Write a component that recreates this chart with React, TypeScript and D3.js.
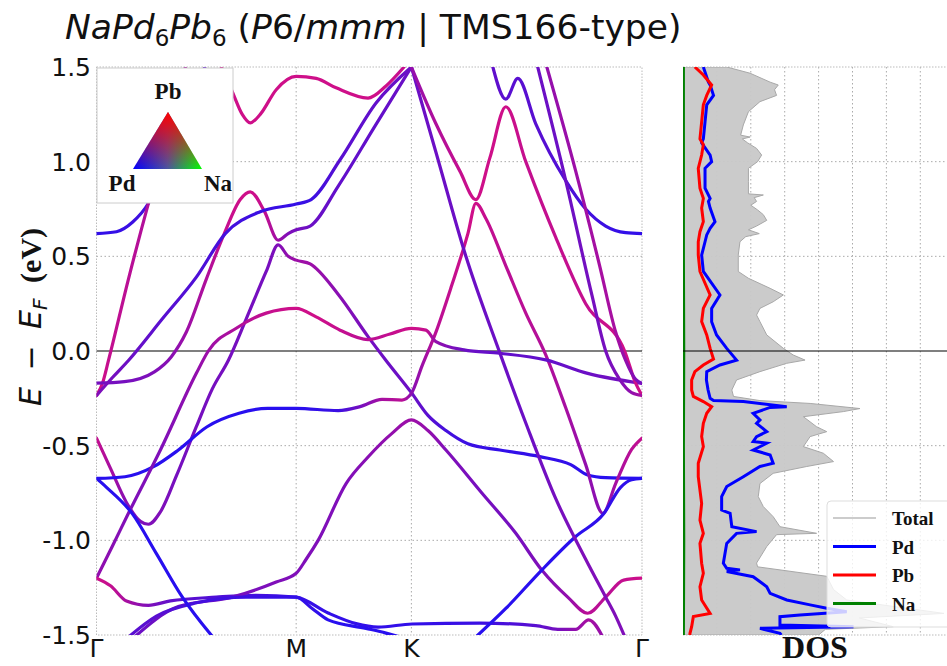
import React from "react";
import * as d3 from "d3";

// High-symmetry path (distances in units of |ΓM|)
const kTickPos = [0, 1, 1.577, 2.732];
const kTickLabels = ["Γ", "M", "K", "Γ"];
const eTicks = [-1.5, -1.0, -0.5, 0.0, 0.5, 1.0, 1.5];

// Bands: [k, E - E_F (eV), Pb weight (0 = Pd-like blue, 1 = Pb-like magenta)]
type P = [number, number, number];
const band01: P[] = [[0,0.62,0.1],[0.1,0.63,0.12],[0.18,0.68,0.15],[0.26,0.78,0.2],[0.35,1.0,0.25],[0.45,1.25,0.3],[0.55,1.52,0.3]];
const band02: P[] = [[0,-0.235,0.9],[0.03,-0.17,0.9],[0.06,-0.05,0.85],[0.16,0.38,0.8],[0.26,0.78,0.75],[0.36,1.15,0.7],[0.45,1.52,0.7]];
const band03: P[] = [[0,-0.17,0.45],[0.14,-0.162,0.45],[0.29,-0.11,0.5],[0.375,-0.03,0.55],[0.45,0.1,0.65],[0.55,0.38,0.75],[0.64,0.62,0.85],[0.72,0.8,0.9],[0.77,0.84,0.9],[0.84,0.74,0.85],[0.91,0.585,0.65],[0.96,0.62,0.5],[1.0,0.64,0.45],[1.07,0.66,0.4],[1.21,0.87,0.35],[1.39,1.18,0.35],[1.577,1.5,0.4]];
const band04: P[] = [[0,-0.235,0.5],[0.08,-0.14,0.45],[0.16,-0.05,0.4],[0.33,0.17,0.3],[0.5,0.39,0.25],[0.645,0.62,0.2],[0.82,0.736,0.15],[1.0,0.776,0.12],[1.075,0.8,0.15],[1.22,1.01,0.3],[1.4,1.31,0.35],[1.577,1.5,0.4]];
const band05: P[] = [[0,-0.46,0.85],[0.07,-0.62,0.7],[0.15,-0.8,0.55],[0.22,-0.9,0.5],[0.26,-0.915,0.5],[0.32,-0.85,0.5],[0.4,-0.66,0.45],[0.5,-0.4,0.45],[0.58,-0.2,0.45],[0.66,-0.05,0.45],[0.75,0.17,0.45],[0.85,0.42,0.45],[0.91,0.56,0.5],[0.96,0.5,0.6],[1.0,0.48,0.65],[1.07,0.46,0.65],[1.21,0.3,0.55],[1.36,0.076,0.45],[1.45,-0.05,0.4],[1.577,-0.22,0.4],[1.66,-0.34,0.3],[1.75,-0.42,0.2],[1.86,-0.49,0.15],[2.02,-0.523,0.1],[2.22,-0.558,0.1],[2.375,-0.6,0.1],[2.46,-0.655,0.05],[2.55,-0.669,0.05],[2.732,-0.673,0.05]];
const band06: P[] = [[0,-0.673,0.05],[0.143,-0.664,0.05],[0.286,-0.611,0.05],[0.41,-0.523,0.05],[0.554,-0.4,0.05],[0.714,-0.329,0.05],[0.857,-0.303,0.05],[1.0,-0.303,0.05],[1.21,-0.315,0.15],[1.32,-0.294,0.45],[1.43,-0.255,0.7],[1.53,-0.259,0.8],[1.577,-0.224,0.55],[1.63,-0.08,0.65],[1.7,0.1,0.8],[1.78,0.35,0.85],[1.86,0.62,0.9],[1.9,0.78,0.9],[1.95,0.7,0.85],[2.05,0.45,0.8],[2.15,0.2,0.8],[2.25,-0.02,0.75],[2.35,-0.3,0.7],[2.45,-0.6,0.6],[2.536,-0.857,0.55],[2.6,-0.7,0.7],[2.68,-0.52,0.8],[2.732,-0.46,0.85]];
const band07: P[] = [[0,-1.2,0.6],[0.08,-1.03,0.55],[0.16,-0.857,0.5],[0.32,-0.523,0.5],[0.5,-0.118,0.6],[0.56,0,0.65],[0.7,0.12,0.75],[0.85,0.2,0.85],[1.0,0.225,0.9],[1.1,0.18,0.9],[1.22,0.11,0.85],[1.36,0.06,0.8],[1.47,0.09,0.85],[1.577,0.12,0.9],[1.65,0.11,0.85],[1.7,0.05,0.6],[1.84,0.006,0.4],[2.02,-0.012,0.35],[2.25,-0.047,0.35],[2.46,-0.118,0.4],[2.732,-0.171,0.45]];
const band08: P[] = [[0,-1.2,0.9],[0.07,-1.24,0.85],[0.15,-1.32,0.7],[0.26,-1.343,0.5],[0.37,-1.32,0.35],[0.6,-1.3,0.25],[0.8,-1.29,0.2],[1.0,-1.3,0.15],[1.16,-1.384,0.1],[1.3,-1.44,0.1],[1.41,-1.458,0.1],[1.58,-1.442,0.1],[1.92,-1.437,0.15],[2.2,-1.45,0.3],[2.31,-1.47,0.45],[2.4,-1.47,0.6],[2.465,-1.42,0.7],[2.54,-1.52,0.6]];
const band09: P[] = [[0.18,-1.52,0.4],[0.41,-1.35,0.4],[0.68,-1.3,0.45],[0.9,-1.22,0.5],[1.0,-1.174,0.5],[1.05,-1.1,0.5],[1.11,-1.0,0.5],[1.25,-0.7,0.5],[1.36,-0.56,0.55],[1.48,-0.435,0.6],[1.577,-0.364,0.65],[1.66,-0.42,0.6],[1.75,-0.523,0.5],[1.93,-0.75,0.45],[2.1,-0.963,0.45],[2.23,-1.157,0.5],[2.36,-1.3,0.6],[2.46,-1.385,0.8],[2.55,-1.3,0.8],[2.64,-1.21,0.85],[2.732,-1.2,0.9]];
const band10: P[] = [[0.15,-1.52,0.3],[0.3,-1.4,0.3],[0.5,-1.33,0.2],[0.75,-1.3,0.15],[1.0,-1.3,0.1],[1.08,-1.36,0.1],[1.16,-1.42,0.05],[1.35,-1.465,0.05],[1.45,-1.49,0.05],[1.55,-1.52,0.05]];
const band11: P[] = [[0,-0.673,0.05],[0.05,-0.72,0.05],[0.18,-0.86,0.05],[0.3,-1.07,0.05],[0.43,-1.3,0.05],[0.59,-1.52,0.05]];
const band12: P[] = [[1.89,-1.52,0.05],[2.05,-1.36,0.05],[2.23,-1.157,0.05],[2.4,-0.98,0.05],[2.54,-0.86,0.1],[2.625,-0.72,0.1],[2.68,-0.68,0.05],[2.732,-0.673,0.05]];
const band13: P[] = [[1.577,1.5,0.4],[1.7,1.05,0.4],[1.85,0.5,0.4],[2.02,-0.01,0.4],[2.15,-0.38,0.4],[2.3,-0.78,0.45],[2.45,-1.1,0.5],[2.55,-1.3,0.5],[2.6,-1.4,0.5],[2.65,-1.52,0.5]];
const band14: P[] = [[1.577,1.5,0.6],[1.7,1.2,0.75],[1.82,0.95,0.85],[1.9,0.8,0.9],[1.97,1.02,0.9],[2.05,1.29,0.9],[2.15,1.0,0.85],[2.3,0.6,0.85],[2.45,0.25,0.85],[2.645,0,0.9],[2.7,-0.17,0.9],[2.732,-0.235,0.9]];
const band15: P[] = [[1.98,1.52,0.35],[2.05,1.33,0.3],[2.11,1.44,0.3],[2.2,1.2,0.3],[2.35,0.9,0.25],[2.45,0.75,0.2],[2.55,0.66,0.15],[2.65,0.625,0.1],[2.732,0.62,0.1]];
const band16: P[] = [[2.205,1.52,0.4],[2.35,0.9,0.4],[2.48,0.3,0.45],[2.55,0,0.45],[2.62,-0.15,0.5],[2.68,-0.22,0.6],[2.732,-0.235,0.7]];
const band17: P[] = [[0.6,1.56,0.9],[0.68,1.37,0.9],[0.73,1.25,0.9],[0.77,1.205,0.9],[0.82,1.25,0.9],[0.9,1.38,0.9],[1.0,1.45,0.9],[1.1,1.44,0.9],[1.2,1.39,0.9],[1.36,1.336,0.9],[1.45,1.4,0.9],[1.54,1.5,0.85]];
const band18: P[] = [[2.25,1.52,0.6],[2.4,0.95,0.65],[2.52,0.45,0.7],[2.6,0.1,0.7],[2.65,-0.05,0.6],[2.7,-0.15,0.5],[2.732,-0.171,0.45]];
const bands = [band01, band02, band03, band04, band05, band06, band07, band08, band09, band10, band11, band12, band13, band14, band15, band16, band17, band18];

// Density of states: [E, states]
const dosTotal: [number, number][] = [[1.5,1.29],[1.467,1.98],[1.42,2.57],[1.405,2.81],[1.38,2.7],[1.35,2.76],[1.317,2.27],[1.264,1.93],[1.194,1.78],[1.14,1.7],[1.13,1.98],[1.12,1.75],[1.1,1.9],[1.07,2.17],[1.035,2.32],[1.0,2.2],[0.965,1.93],[0.894,1.93],[0.83,1.93],[0.824,2.37],[0.81,2.1],[0.79,2.17],[0.77,2.0],[0.745,2.2],[0.72,2.37],[0.69,2.47],[0.66,2.17],[0.64,1.93],[0.62,2.25],[0.604,1.85],[0.577,1.68],[0.507,1.63],[0.42,1.63],[0.384,1.93],[0.331,2.57],[0.296,2.96],[0.26,2.66],[0.225,2.27],[0.19,2.17],[0.155,2.27],[0.085,2.47],[0.014,2.96],[-0.021,3.25],[-0.048,3.6],[-0.065,3.06],[-0.109,2.27],[-0.153,1.58],[-0.206,1.44],[-0.24,1.49],[-0.262,2.27],[-0.277,3.75],[-0.304,5.22],[-0.32,4.73],[-0.347,3.55],[-0.4,3.94],[-0.426,4.24],[-0.452,3.75],[-0.505,3.55],[-0.54,4.14],[-0.584,4.44],[-0.61,3.65],[-0.646,2.66],[-0.7,2.27],[-0.769,2.22],[-0.822,2.37],[-0.875,2.66],[-0.928,2.86],[-0.963,3.94],[-0.97,2.76],[-1.033,2.47],[-1.12,2.17],[-1.14,2.2],[-1.19,4.24],[-1.26,4.44],[-1.315,4.83],[-1.386,7.7],[-1.41,5.2],[-1.456,6.2],[-1.47,4.2],[-1.5,4.0]];
const dosPd: [number, number][] = [[1.5,0.6],[1.42,0.75],[1.405,0.8],[1.35,0.9],[1.3,0.7],[1.21,0.65],[1.12,0.6],[1.1,0.55],[1.035,0.8],[1.0,0.845],[0.965,0.65],[0.86,0.65],[0.806,0.8],[0.79,0.75],[0.755,0.8],[0.683,0.944],[0.648,0.8],[0.613,0.7],[0.577,0.65],[0.507,0.55],[0.42,0.6],[0.296,1.09],[0.225,0.845],[0.155,0.845],[0.085,0.99],[0.014,1.29],[-0.048,1.58],[-0.074,1.09],[-0.109,0.7],[-0.153,0.69],[-0.206,0.74],[-0.25,0.8],[-0.262,0.9],[-0.267,1.78],[-0.294,3.06],[-0.298,2.57],[-0.329,2.07],[-0.364,2.27],[-0.382,2.17],[-0.426,2.47],[-0.452,2.17],[-0.478,2.07],[-0.487,2.47],[-0.523,2.07],[-0.549,2.57],[-0.593,2.66],[-0.61,2.27],[-0.664,1.78],[-0.716,1.29],[-0.769,1.14],[-0.84,1.14],[-0.857,1.39],[-0.928,1.44],[-0.954,2.17],[-0.963,1.58],[-1.016,1.29],[-1.121,1.19],[-1.148,1.29],[-1.156,1.68],[-1.165,1.29],[-1.192,2.07],[-1.245,2.47],[-1.28,2.57],[-1.315,3.06],[-1.341,3.75],[-1.359,4.24],[-1.377,4.83],[-1.394,3.45],[-1.403,2.86],[-1.447,2.86],[-1.456,5.03],[-1.465,2.27],[-1.491,2.86],[-1.5,2.9]];
const dosPb: [number, number][] = [[1.5,0.35],[1.458,0.6],[1.405,0.845],[1.35,0.7],[1.3,0.6],[1.21,0.55],[1.12,0.5],[1.09,0.6],[1.035,0.55],[0.965,0.45],[0.86,0.5],[0.806,0.6],[0.755,0.55],[0.683,0.6],[0.63,0.5],[0.577,0.45],[0.507,0.45],[0.42,0.5],[0.296,0.8],[0.225,0.6],[0.155,0.55],[0.085,0.7],[0.014,0.8],[-0.042,0.9],[-0.074,0.6],[-0.109,0.35],[-0.153,0.255],[-0.206,0.255],[-0.24,0.305],[-0.267,0.6],[-0.294,0.845],[-0.329,0.7],[-0.382,0.6],[-0.452,0.55],[-0.505,0.6],[-0.593,0.45],[-0.664,0.45],[-0.805,0.55],[-0.893,0.5],[-0.963,0.6],[-1.016,0.5],[-1.121,0.55],[-1.174,0.6],[-1.245,0.5],[-1.315,0.55],[-1.386,0.8],[-1.403,0.305],[-1.456,0.255],[-1.491,0.206],[-1.5,0.2]];
const dosNa: [number, number][] = [[1.5,0.02],[0.5,0.02],[0,0.03],[-0.5,0.02],[-1.0,0.03],[-1.5,0.02]];
const dosGrid = [1, 2, 3, 4, 5, 6, 7];

const W = 947, H = 666;
const band = { left: 96.5, right: 642, top: 67, bottom: 635 };
const dos = { left: 683, right: 954, top: 67, bottom: 635 };

const bandColor = d3.interpolateRgb("rgb(30,15,245)", "rgb(225,15,125)");

export default function App() {
  const x = d3.scaleLinear().domain([0, 2.732]).range([band.left, band.right]);
  const y = d3.scaleLinear().domain([-1.5, 1.5]).range([band.bottom, band.top]);
  const xd = d3.scaleLinear().domain([0, 1]).range([dos.left, dos.left + 33.9]);

  const line = d3.line<P>().x((d) => x(d[0])).y((d) => y(d[1])).curve(d3.curveMonotoneX);
  const dosLine = d3.line<[number, number]>().x((d) => xd(d[1])).y((d) => y(d[0]));
  const dosArea = d3.area<[number, number]>().y((d) => y(d[0])).x0(xd(0)).x1((d) => xd(d[1]));

  const grid = "#aaa";
  const sans = "DejaVu Sans, sans-serif";
  const serif = "Liberation Serif, Times New Roman, serif";

  return (
    <svg width={W} height={H} style={{ position: "absolute", left: 0, top: 0 }} viewBox={`0 0 ${W} ${H}`}>
      <defs>
        <clipPath id="bandClip">
          <rect x={band.left} y={band.top} width={band.right - band.left} height={band.bottom - band.top} />
        </clipPath>
        <clipPath id="dosClip">
          <rect x={dos.left} y={dos.top} width={dos.right - dos.left} height={dos.bottom - dos.top} />
        </clipPath>
        {bands.map((b, i) => (
          <linearGradient key={i} id={`g${i}`} gradientUnits="userSpaceOnUse" x1={x(b[0][0])} x2={x(b[b.length - 1][0])} y1={0} y2={0}>
            {b.map((p, j) => (
              <stop key={j} offset={(p[0] - b[0][0]) / (b[b.length - 1][0] - b[0][0])} stopColor={bandColor(p[2])} />
            ))}
          </linearGradient>
        ))}
        <linearGradient id="triH" x1="0" x2="1" y1="0" y2="0">
          <stop offset="0" stopColor="#0000ff" />
          <stop offset="0.5" stopColor="#4a55a0" />
          <stop offset="1" stopColor="#00ff00" />
        </linearGradient>
        <linearGradient id="triV" x1="0" x2="0" y1="0" y2="1">
          <stop offset="0" stopColor="#ff0000" stopOpacity="1" />
          <stop offset="1" stopColor="#ff0000" stopOpacity="0" />
        </linearGradient>
      </defs>

      <text x={65} y={39} fontFamily={sans} fontSize={34.5} fill="#111">
        <tspan fontStyle="italic">NaPd</tspan>
        <tspan fontSize={23} dy={7}>6</tspan>
        <tspan fontStyle="italic" dy={-7}>Pb</tspan>
        <tspan fontSize={23} dy={7}>6</tspan>
        <tspan dy={-7}> (</tspan>
        <tspan fontStyle="italic">P</tspan>
        <tspan>6/</tspan>
        <tspan fontStyle="italic">mmm</tspan>
        <tspan> | TMS166-type)</tspan>
      </text>

      {/* band panel grid */}
      {[-1.0, -0.5, 0.5, 1.0].map((e) => (
        <line key={e} x1={band.left} x2={band.right} y1={y(e)} y2={y(e)} stroke={grid} strokeWidth={1} strokeDasharray="1.5,2.5" />
      ))}
      {kTickPos.slice(1, 3).map((k) => (
        <line key={k} x1={x(k)} x2={x(k)} y1={band.top} y2={band.bottom} stroke={grid} strokeWidth={1} strokeDasharray="1.5,2.5" />
      ))}
      <rect x={band.left} y={band.top} width={band.right - band.left} height={band.bottom - band.top} fill="none" stroke="#bbb" strokeWidth={1} strokeDasharray="1.5,1.5" />
      <line x1={band.left} x2={band.right} y1={y(0)} y2={y(0)} stroke="#000" strokeWidth={1.2} />

      <g clipPath="url(#bandClip)">
        {bands.map((b, i) => (
          <path key={i} d={line(b) ?? ""} fill="none" stroke={`url(#g${i})`} strokeWidth={3.2} strokeLinecap="round" />
        ))}
      </g>

      {/* composition legend */}
      <rect x={97} y={68} width={136} height={135} fill="#fff" stroke="#ccc" strokeWidth={1} />
      <polygon points="168,112 133,169 202,169" fill="url(#triH)" />
      <polygon points="168,112 133,169 202,169" fill="url(#triV)" />
      <text x={168} y={99} textAnchor="middle" fontFamily={serif} fontWeight="bold" fontSize={23} fill="#111">Pb</text>
      <text x={122} y={191} textAnchor="middle" fontFamily={serif} fontWeight="bold" fontSize={23} fill="#111">Pd</text>
      <text x={218} y={191} textAnchor="middle" fontFamily={serif} fontWeight="bold" fontSize={23} fill="#111">Na</text>

      {/* axes labels */}
      {eTicks.map((e) => (
        <text key={e} x={91} y={y(e) + 9} textAnchor="end" fontFamily={sans} fontSize={25} fill="#111">{e.toFixed(1)}</text>
      ))}
      {kTickPos.map((k, i) => (
        <text key={i} x={x(k)} y={657} textAnchor="middle" fontFamily={sans} fontSize={25} fill="#111">{kTickLabels[i]}</text>
      ))}
      <text transform={`translate(41,${317}) rotate(-90)`} textAnchor="middle" fontSize={30} fill="#111">
        <tspan fontFamily={sans} fontStyle="italic">E</tspan>
        <tspan fontFamily={sans} dx={7}> − </tspan>
        <tspan fontFamily={sans} fontStyle="italic" dx={7}>E</tspan>
        <tspan fontFamily={sans} fontStyle="italic" fontSize={20} dy={6}>F</tspan>
        <tspan fontFamily={serif} fontWeight="bold" dy={-6} dx={8}> (eV)</tspan>
      </text>

      {/* DOS panel */}
      {[-1.0, -0.5, 0.5, 1.0].map((e) => (
        <line key={e} x1={dos.left} x2={dos.right} y1={y(e)} y2={y(e)} stroke={grid} strokeWidth={1} strokeDasharray="1.5,2.5" />
      ))}
      {dosGrid.map((g) => (
        <line key={g} x1={xd(g)} x2={xd(g)} y1={dos.top} y2={dos.bottom} stroke={grid} strokeWidth={1} strokeDasharray="1.5,2.5" />
      ))}
      <line x1={dos.left} x2={dos.right} y1={dos.top} y2={dos.top} stroke="#bbb" strokeDasharray="1.5,1.5" />
      <line x1={dos.left} x2={dos.right} y1={dos.bottom} y2={dos.bottom} stroke="#bbb" strokeDasharray="1.5,1.5" />
      <g clipPath="url(#dosClip)">
        <path d={dosArea(dosTotal) ?? ""} fill="#c8c8c8" fillOpacity={0.95} stroke="#a8a8a8" strokeWidth={1} />
        <path d={dosLine(dosPd) ?? ""} fill="none" stroke="#0000ff" strokeWidth={3} />
        <path d={dosLine(dosPb) ?? ""} fill="none" stroke="#ff0000" strokeWidth={3} />
        <path d={dosLine(dosNa) ?? ""} fill="none" stroke="#008000" strokeWidth={2.5} />
      </g>
      <line x1={dos.left} x2={dos.right} y1={y(0)} y2={y(0)} stroke="#000" strokeWidth={1.2} />
      <text x={815} y={658} textAnchor="middle" fontFamily={serif} fontWeight="bold" fontSize={32} fill="#111">DOS</text>

      {/* DOS legend */}
      <rect x={827} y={501} width={125} height={126} rx={4} fill="#fff" fillOpacity={0.8} stroke="#ddd" />
      {[
        { t: "Total", c: "#999", w: 1 },
        { t: "Pd", c: "#0000ff", w: 3 },
        { t: "Pb", c: "#ff0000", w: 3 },
        { t: "Na", c: "#008000", w: 3 },
      ].map((d, i) => (
        <g key={d.t}>
          <line x1={833} x2={876} y1={518 + i * 28.5} y2={518 + i * 28.5} stroke={d.c} strokeWidth={d.w} />
          <text x={892} y={525 + i * 28.5} fontFamily={serif} fontWeight="bold" fontSize={19} fill="#111">{d.t}</text>
        </g>
      ))}
    </svg>
  );
}
